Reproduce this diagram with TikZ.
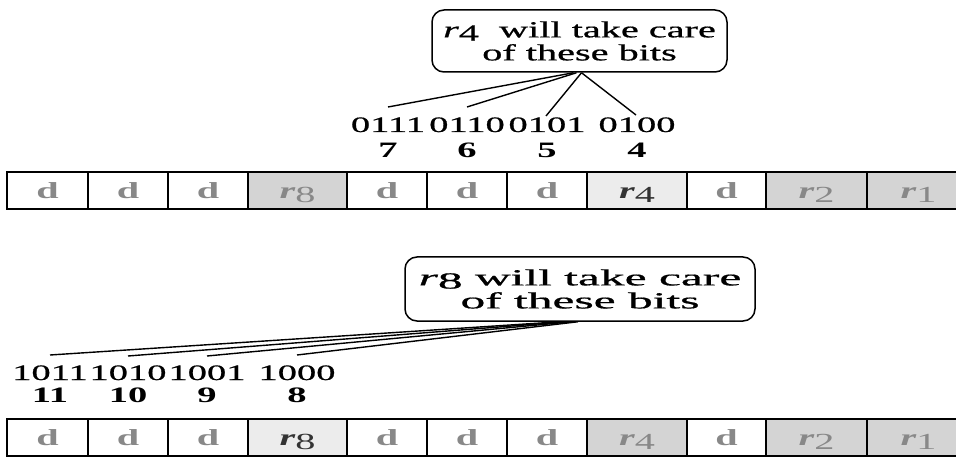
\documentclass[tikz,border=0pt]{standalone}
\usepackage{fontspec}
\setmainfont{Liberation Serif}
\usepackage{graphicx}
\definecolor{lbl}{HTML}{888888}
\definecolor{darklbl}{HTML}{333333}
\definecolor{fdark}{HTML}{D4D4D4}
\definecolor{flight}{HTML}{ECECEC}
\newcommand{\sx}[1]{\scalebox{1.75}[1]{#1}}
\newcommand{\sxw}[1]{\scalebox{2.15}[1]{#1}}
\newcommand{\dlab}{\sx{\bfseries d}}
\newcommand{\rlab}[1]{\sx{\bfseries\itshape r\raisebox{-0.35ex}{\normalfont #1}}}
\begin{document}
\begin{tikzpicture}[x=1pt,y=-1pt,
  cell/.style={draw=black, line width=1.6pt, minimum height=37pt, inner sep=0pt,
    text height=16pt, text depth=0pt, font=\fontsize{23}{26}\selectfont, text=lbl},
  dcell/.style={cell, fill=white, minimum width=#1},
  rdark/.style={cell, fill=fdark, minimum width=#1},
  rlight/.style={cell, fill=flight, minimum width=#1, text=darklbl},
  callout/.style={draw=black, line width=1.5pt, rounded corners=12pt, align=center,
    inner sep=0pt, font=\fontsize{23}{26}\selectfont\addfontfeature{FakeBold=0.6}},
  bits/.style={anchor=base, inner sep=0pt, font=\fontsize{22}{24}\selectfont\addfontfeature{FakeBold=0.6}},
  num/.style={anchor=base, inner sep=0pt, font=\fontsize{22}{24}\selectfont\bfseries},
  conn/.style={draw=black, line width=1.4pt}]
\useasboundingbox (0,0) rectangle (956,457);
\clip (0,0) rectangle (956,457);

% ---------- top row ----------
\node[dcell=81pt]  (u1)  at (47.5,190.5)  {\dlab};
\node[dcell=80pt]  (u2)  at (128,190.5)   {\dlab};
\node[dcell=80pt]  (u3)  at (208,190.5)   {\dlab};
\node[rdark=99pt]  (u4)  at (297.5,190.5) {\rlab{8}};
\node[dcell=80pt]  (u5)  at (387,190.5)   {\dlab};
\node[dcell=80pt]  (u6)  at (467,190.5)   {\dlab};
\node[dcell=80pt]  (u7)  at (547,190.5)   {\dlab};
\node[rlight=100pt] (u8) at (637,190.5)   {\rlab{4}};
\node[dcell=79pt]  (u9)  at (726.5,190.5) {\dlab};
\node[rdark=101pt] (u10) at (816.5,190.5) {\rlab{2}};
\node[rdark=103pt] (u11) at (918.5,190.5) {\rlab{1}};

% ---------- bottom row ----------
\node[dcell=81pt]  (v1)  at (47.5,437.5)  {\dlab};
\node[dcell=80pt]  (v2)  at (128,437.5)   {\dlab};
\node[dcell=80pt]  (v3)  at (208,437.5)   {\dlab};
\node[rlight=99pt] (v4)  at (297.5,437.5) {\rlab{8}};
\node[dcell=80pt]  (v5)  at (387,437.5)   {\dlab};
\node[dcell=80pt]  (v6)  at (467,437.5)   {\dlab};
\node[dcell=80pt]  (v7)  at (547,437.5)   {\dlab};
\node[rdark=100pt] (v8)  at (637,437.5)   {\rlab{4}};
\node[dcell=79pt]  (v9)  at (726.5,437.5) {\dlab};
\node[rdark=101pt] (v10) at (816.5,437.5) {\rlab{2}};
\node[rdark=103pt] (v11) at (918.5,437.5) {\rlab{1}};

% ---------- top annotations ----------
\node[bits] (s7) at (388,132) {\sx{0111}};
\node[bits] (s6) at (467,132) {\sx{0110}};
\node[bits] (s5) at (547,132) {\sx{0101}};
\node[bits] (s4) at (637,132) {\sx{0100}};
\node[num] (n7) at (388,158) {\sx{7}};
\node[num] (n6) at (467,158) {\sx{6}};
\node[num] (n5) at (547,158) {\sx{5}};
\node[num] (n4) at (637,158) {\sx{4}};

\node[callout, minimum width=295pt, minimum height=62pt] (c1) at (579.5,41)
  {\sx{{\itshape r}\raisebox{-0.3ex}{4}\ \ will take care}\\[-3pt]\sx{of these bits}};

\coordinate (e7) at (388,107);
\coordinate (e6) at (467,107);
\coordinate (e5) at (546,116);
\coordinate (e4) at (636,115);
\draw[conn] ([xshift=-6pt]c1.south) -- (e7);
\draw[conn] ([xshift=-3pt]c1.south) -- (e6);
\draw[conn] ([xshift=2pt]c1.south) -- (e5);
\draw[conn] ([xshift=2pt]c1.south) -- (e4);

% ---------- bottom annotations ----------
\node[bits] (s11) at (50,380)  {\sx{1011}};
\node[bits] (s10) at (128,380) {\sx{1010}};
\node[bits] (s9)  at (207,380) {\sx{1001}};
\node[bits] (s8)  at (297,380) {\sx{1000}};
\node[num] (n11) at (50,402)  {\sx{11}};
\node[num] (n10) at (128,402) {\sx{10}};
\node[num] (n9)  at (207,402) {\sx{9}};
\node[num] (n8)  at (297,402) {\sx{8}};

\node[callout, minimum width=350pt, minimum height=64pt] (c2) at (580,289)
  {\sxw{{\itshape r}\raisebox{-0.3ex}{8} will take care}\\[-3pt]\sxw{of these bits}};

\coordinate (f11) at (50,355);
\coordinate (f10) at (128,356);
\coordinate (f9)  at (207,356);
\coordinate (f8)  at (297,355);
\draw[conn] ([xshift=-20pt]c2.south) -- (f11);
\draw[conn] ([xshift=-14pt]c2.south) -- (f10);
\draw[conn] ([xshift=-8pt]c2.south) -- (f9);
\draw[conn] ([xshift=-2pt]c2.south) -- (f8);
\end{tikzpicture}
\end{document}
